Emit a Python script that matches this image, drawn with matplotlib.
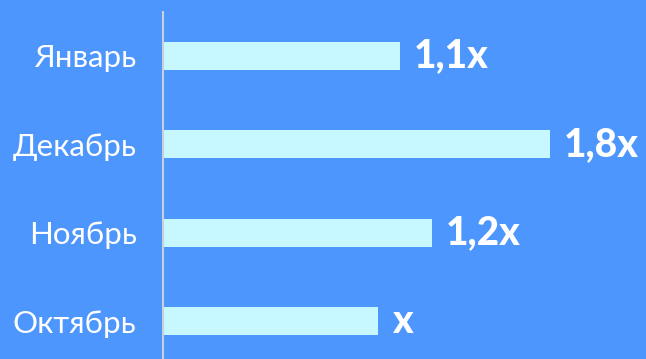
import matplotlib
matplotlib.use("Agg")
import matplotlib.pyplot as plt

months = ["Октябрь", "Ноябрь", "Декабрь", "Январь"]
growth = [1.0, 1.25, 1.8, 1.1]
value_labels = ["x", "1,2x", "1,8x", "1,1x"]

bg = "#4d96fd"
bar_color = "#c8f8ff"

fig = plt.figure(figsize=(6.46, 3.59), dpi=100, facecolor=bg)
ax = fig.add_axes([163 / 646, 0, 483 / 646, 347 / 359])
ax.set_facecolor(bg)

y = range(len(months))
ax.barh(y, growth, height=0.317, color=bar_color, left=0)

# value labels to the right of each bar
for i, (v, lab) in enumerate(zip(growth, value_labels)):
    ax.annotate(lab, (v, i), xytext=(10, 0), textcoords="offset points",
                va="center", ha="left", color="white",
                fontsize=28, fontweight="black", family="Lato")

ax.set_xlim(0, 483 / 215)
ax.set_ylim(-0.43, 3.498)
ax.set_yticks(list(y))
ax.set_yticklabels(months, color="white", fontsize=22.5, family="Lato")
ax.tick_params(axis="y", length=0, pad=19)
ax.set_xticks([])

for s in ["top", "right", "bottom"]:
    ax.spines[s].set_visible(False)
ax.spines["left"].set_color("#c8d0da")
ax.spines["left"].set_linewidth(1.5)

fig.savefig("out.png", dpi=100, facecolor=bg)
